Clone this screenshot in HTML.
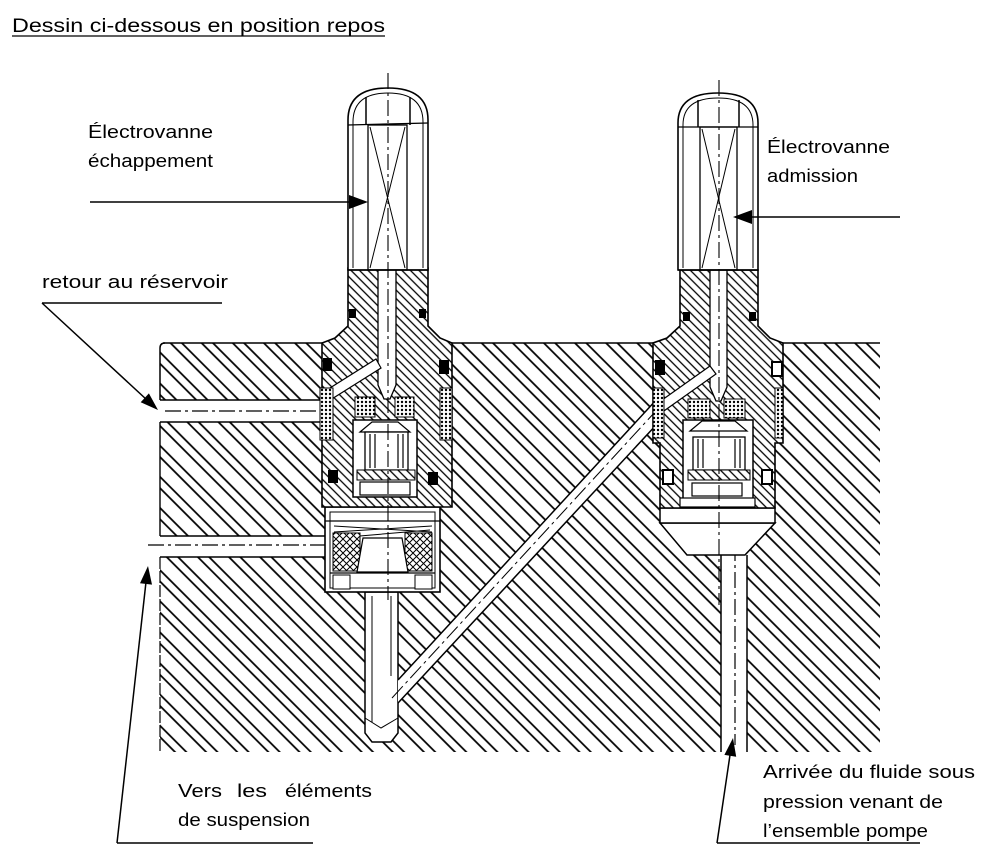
<!DOCTYPE html>
<html><head><meta charset="utf-8"><style>
html,body{margin:0;padding:0;background:#fff;width:1000px;height:861px;overflow:hidden}
svg{display:block}
text{font-family:"Liberation Sans",sans-serif;fill:#000}
</style></head><body>
<svg width="1000" height="861" viewBox="0 0 1000 861" xmlns="http://www.w3.org/2000/svg">
<defs>
<pattern id="h1" patternUnits="userSpaceOnUse" width="22" height="22" patternTransform="rotate(45)">
<rect width="22" height="22" fill="#fff"/><line x1="0" y1="4" x2="22" y2="4" stroke="#000" stroke-width="1.7"/><line x1="0" y1="12" x2="22" y2="12" stroke="#000" stroke-width="1.7"/></pattern>
<pattern id="h2" patternUnits="userSpaceOnUse" width="6" height="6" patternTransform="rotate(45)">
<rect width="6" height="6" fill="#fff"/><line x1="0" y1="3" x2="6" y2="3" stroke="#000" stroke-width="1.3"/></pattern>
<pattern id="ck" patternUnits="userSpaceOnUse" width="4" height="4">
<rect width="4" height="4" fill="#fff"/><circle cx="2" cy="2" r="1.2" fill="#000"/></pattern>
<pattern id="xh" patternUnits="userSpaceOnUse" width="7" height="7">
<rect width="7" height="7" fill="#fff"/><path d="M0,0 L7,7 M7,0 L0,7" stroke="#000" stroke-width="1"/></pattern>
</defs>

<!-- title -->
<text x="12" y="32" font-size="19" textLength="373" lengthAdjust="spacingAndGlyphs">Dessin ci-dessous en position repos</text>
<line x1="12" y1="36" x2="385" y2="36" stroke="#000" stroke-width="1.3"/>

<!-- main block -->
<rect x="160" y="343" width="720" height="409" fill="url(#h1)"/>
<line x1="163" y1="343" x2="880" y2="343" stroke="#000" stroke-width="1.6"/>
<path d="M160,400 L160,348 Q160,343 165,343" fill="none" stroke="#000" stroke-width="1.5"/>
<line x1="160" y1="422" x2="160" y2="536" stroke="#000" stroke-width="1.4"/>
<line x1="160" y1="557" x2="160" y2="752" stroke="#000" stroke-width="1.2" stroke-dasharray="12,2"/>

<!-- left channels -->
<rect x="158" y="400" width="166" height="22" fill="#fff"/>
<line x1="160" y1="400" x2="324" y2="400" stroke="#000" stroke-width="1.5"/>
<line x1="160" y1="422" x2="324" y2="422" stroke="#000" stroke-width="1.5"/>
<line x1="165" y1="411" x2="322" y2="411" stroke="#000" stroke-width="1.2" stroke-dasharray="16,4,3,4"/>
<rect x="158" y="536" width="170" height="21" fill="#fff"/>
<line x1="160" y1="536" x2="327" y2="536" stroke="#000" stroke-width="1.5"/>
<line x1="160" y1="557" x2="327" y2="557" stroke="#000" stroke-width="1.5"/>
<line x1="148" y1="545" x2="440" y2="545" stroke="#000" stroke-width="1.2" stroke-dasharray="16,4,3,4"/>

<!-- left pin -->
<path d="M365,592 L398,592 L398,733 L391,742 L372,742 L365,733 Z" fill="#fff" stroke="#000" stroke-width="1.5"/>

<!-- diagonal band -->
<polygon points="398,680 658,398 658,423 398,703" fill="#fff"/>
<line x1="398" y1="680" x2="658" y2="398" stroke="#000" stroke-width="1.5"/>
<line x1="398" y1="703" x2="658" y2="423" stroke="#000" stroke-width="1.5"/>
<line x1="392" y1="698" x2="655" y2="412" stroke="#000" stroke-width="1" stroke-dasharray="16,4,3,4"/>
<!-- pin interior -->
<line x1="372" y1="596" x2="372" y2="722" stroke="#000" stroke-width="1"/>
<line x1="391" y1="596" x2="391" y2="676" stroke="#000" stroke-width="1"/>
<path d="M365,718 L381,728 L398,718" fill="none" stroke="#000" stroke-width="1"/>

<!-- right pipe and cone -->
<rect x="721" y="553" width="26" height="199" fill="#fff"/>
<line x1="721" y1="555" x2="721" y2="752" stroke="#000" stroke-width="1.5"/>
<line x1="747" y1="555" x2="747" y2="752" stroke="#000" stroke-width="1.5"/>
<line x1="735" y1="545" x2="735" y2="745" stroke="#000" stroke-width="1.2" stroke-dasharray="16,4,3,4"/>
<polygon points="660,523 775,523 745,555 687,555" fill="#fff" stroke="#000" stroke-width="1.5"/>
<rect x="660" y="508" width="115" height="15" fill="#fff" stroke="#000" stroke-width="1.5"/>

<!-- LEFT VALVE -->
<rect x="325" y="507" width="115" height="85" fill="#fff" stroke="#000" stroke-width="1.6"/>
<rect x="330" y="512" width="105" height="76" fill="none" stroke="#000" stroke-width="1"/>
<line x1="325" y1="521" x2="440" y2="521" stroke="#000" stroke-width="1.2"/>
<path d="M334,526 L432,532 M334,532 L432,526 M336,538 L430,530" stroke="#000" stroke-width="1" fill="none"/>
<rect x="333" y="533" width="27" height="38" fill="url(#xh)" stroke="#000" stroke-width="1"/>
<rect x="405" y="533" width="27" height="38" fill="url(#xh)" stroke="#000" stroke-width="1"/>
<polygon points="363,538 402,538 408,572 357,572" fill="#fff" stroke="#000" stroke-width="1.2"/>
<line x1="330" y1="573" x2="435" y2="573" stroke="#000" stroke-width="1.2"/>
<rect x="333" y="575" width="17" height="14" fill="#fff" stroke="#000" stroke-width="1"/>
<rect x="415" y="575" width="17" height="14" fill="#fff" stroke="#000" stroke-width="1"/>

<path d="M348,268 L428,268 L428,326 L440,338 L452,343 L452,507 L322,507 L322,343 L335,338 L348,326 Z" fill="url(#h2)" stroke="#000" stroke-width="1.6"/>
<path d="M378,268 L396,268 L396,385 L390,399 L384,399 L378,385 Z" fill="#fff" stroke="#000" stroke-width="1.3"/>
<polygon points="322,393 376,359 381,368 327,402" fill="#fff" stroke="#000" stroke-width="1.2"/>
<rect x="320" y="388" width="13" height="52" fill="url(#ck)" stroke="#000" stroke-width="1"/>
<rect x="440" y="388" width="12" height="52" fill="url(#ck)" stroke="#000" stroke-width="1"/>
<rect x="349" y="309" width="7" height="9" fill="#000"/>
<rect x="419" y="309" width="7" height="9" fill="#000"/>
<rect x="323" y="358" width="9" height="13" fill="#000"/>
<rect x="439" y="360" width="10" height="14" fill="#000"/>
<rect x="328" y="470" width="10" height="13" fill="#000"/>
<rect x="428" y="472" width="10" height="13" fill="#000"/>
<rect x="355" y="397" width="20" height="20" fill="url(#ck)" stroke="#000" stroke-width="1"/>
<rect x="395" y="397" width="19" height="20" fill="url(#ck)" stroke="#000" stroke-width="1"/>
<rect x="353" y="420" width="64" height="77" fill="#fff" stroke="#000" stroke-width="1.5"/>
<path d="M360,432 L372,422 L398,422 L410,432 Z" fill="#fff" stroke="#000" stroke-width="1.2"/>
<rect x="365" y="432" width="43" height="38" fill="#fff" stroke="#000" stroke-width="1.3"/>
<path d="M370,434 V468 M375,434 V468 M398,434 V468 M403,434 V468" stroke="#000" stroke-width="1.2"/>
<rect x="357" y="470" width="58" height="10" fill="url(#h2)" stroke="#000" stroke-width="1"/>
<rect x="360" y="482" width="50" height="13" fill="#fff" stroke="#000" stroke-width="1.2"/>

<!-- RIGHT VALVE -->
<path d="M680,270 L758,270 L758,326 L770,338 L783,343 L783,443 L775,443 L775,508 L660,508 L660,443 L653,443 L653,343 L667,338 L680,326 Z" fill="url(#h2)" stroke="#000" stroke-width="1.6"/>
<path d="M710,270 L727,270 L727,387 L721,401 L716,401 L710,387 Z" fill="#fff" stroke="#000" stroke-width="1.3"/>
<polygon points="655,405 710,366 716,374 661,413" fill="#fff" stroke="#000" stroke-width="1.2"/>
<rect x="653" y="388" width="11" height="50" fill="url(#ck)" stroke="#000" stroke-width="1"/>
<rect x="775" y="388" width="8" height="50" fill="url(#ck)" stroke="#000" stroke-width="1"/>
<rect x="683" y="312" width="7" height="9" fill="#000"/>
<rect x="749" y="312" width="7" height="9" fill="#000"/>
<rect x="655" y="360" width="10" height="15" fill="#000"/>
<rect x="772" y="362" width="10" height="14" fill="#fff" stroke="#000" stroke-width="2"/>
<rect x="663" y="470" width="10" height="14" fill="#fff" stroke="#000" stroke-width="2"/>
<rect x="762" y="470" width="10" height="14" fill="#fff" stroke="#000" stroke-width="2"/>
<rect x="688" y="399" width="22" height="19" fill="url(#ck)" stroke="#000" stroke-width="1"/>
<rect x="724" y="399" width="21" height="19" fill="url(#ck)" stroke="#000" stroke-width="1"/>
<rect x="683" y="420" width="70" height="87" fill="#fff" stroke="#000" stroke-width="1.5"/>
<path d="M690,431 L702,421 L735,421 L747,431 Z" fill="#fff" stroke="#000" stroke-width="1.2"/>
<rect x="693" y="437" width="52" height="33" fill="#fff" stroke="#000" stroke-width="1.3"/>
<path d="M698,439 V468 M703,439 V468 M735,439 V468 M740,439 V468" stroke="#000" stroke-width="1.2"/>
<rect x="688" y="470" width="62" height="10" fill="url(#h2)" stroke="#000" stroke-width="1"/>
<rect x="692" y="483" width="50" height="13" fill="#fff" stroke="#000" stroke-width="1.2"/>
<rect x="680" y="498" width="75" height="9" fill="#fff" stroke="#000" stroke-width="1.2"/>

<!-- solenoid caps -->
<path d="M348,270 L348,120 Q348,88 388,88 Q428,88 428,120 L428,270 Z" fill="#fff" stroke="#000" stroke-width="1.6"/>
<path d="M353,268 L353,122 Q353,93 388,93 Q423,93 423,122 L423,268" fill="none" stroke="#000" stroke-width="1"/>
<line x1="348" y1="125" x2="428" y2="123" stroke="#000" stroke-width="1.3"/>
<path d="M366,97 V125 M410,97 V125" stroke="#000" stroke-width="1.5"/>
<rect x="368" y="125" width="39" height="145" fill="none" stroke="#000" stroke-width="1.3"/>
<path d="M370,127 L405,268 M405,127 L370,268" stroke="#000" stroke-width="1"/>
<line x1="348" y1="270" x2="428" y2="270" stroke="#000" stroke-width="1.5"/>

<path d="M678,270 L678,123 Q678,93 718,93 Q758,93 758,123 L758,270 Z" fill="#fff" stroke="#000" stroke-width="1.6"/>
<path d="M683,268 L683,125 Q683,98 718,98 Q753,98 753,125 L753,268" fill="none" stroke="#000" stroke-width="1"/>
<line x1="678" y1="127" x2="758" y2="127" stroke="#000" stroke-width="1.3"/>
<path d="M698,100 V127 M739,100 V127" stroke="#000" stroke-width="1.5"/>
<rect x="700" y="127" width="37" height="143" fill="none" stroke="#000" stroke-width="1.3"/>
<path d="M702,129 L735,268 M735,129 L702,268" stroke="#000" stroke-width="1"/>
<line x1="678" y1="270" x2="758" y2="270" stroke="#000" stroke-width="1.5"/>

<!-- centerlines -->
<line x1="388" y1="73" x2="388" y2="600" stroke="#000" stroke-width="1.1" stroke-dasharray="16,4,3,4"/>
<line x1="719" y1="80" x2="719" y2="605" stroke="#000" stroke-width="1.1" stroke-dasharray="16,4,3,4"/>

<!-- labels & leaders -->
<text x="88" y="138" font-size="18" textLength="125" lengthAdjust="spacingAndGlyphs">Électrovanne</text>
<text x="88" y="167" font-size="18" textLength="125" lengthAdjust="spacingAndGlyphs">échappement</text>
<line x1="90" y1="202" x2="352" y2="202" stroke="#000" stroke-width="1.5"/>
<polygon points="368,202 349,195 349,209" fill="#000"/>

<text x="767" y="153" font-size="18" textLength="123" lengthAdjust="spacingAndGlyphs">Électrovanne</text>
<text x="767" y="182" font-size="18" textLength="91" lengthAdjust="spacingAndGlyphs">admission</text>
<line x1="900" y1="217" x2="750" y2="217" stroke="#000" stroke-width="1.5"/>
<polygon points="733,217 752,210 752,224" fill="#000"/>

<text x="42" y="288" font-size="18" textLength="186" lengthAdjust="spacingAndGlyphs">retour au réservoir</text>
<line x1="42" y1="303" x2="222" y2="303" stroke="#000" stroke-width="1.5"/>
<line x1="42" y1="303" x2="147" y2="400" stroke="#000" stroke-width="1.5"/>
<polygon points="158,410 140.7,402.2 148.9,393.4" fill="#000"/>

<text x="178" y="797" font-size="18" textLength="44" lengthAdjust="spacingAndGlyphs">Vers</text>
<text x="237" y="797" font-size="18" textLength="30" lengthAdjust="spacingAndGlyphs">les</text>
<text x="285" y="797" font-size="18" textLength="87" lengthAdjust="spacingAndGlyphs">éléments</text>
<text x="178" y="826" font-size="18" textLength="132" lengthAdjust="spacingAndGlyphs">de suspension</text>
<line x1="117" y1="843" x2="313" y2="843" stroke="#000" stroke-width="1.5"/>
<line x1="117" y1="843" x2="146" y2="582" stroke="#000" stroke-width="1.5"/>
<polygon points="148,566 152,584.6 140,583.2" fill="#000"/>

<text x="763" y="778" font-size="18" textLength="212" lengthAdjust="spacingAndGlyphs">Arrivée du fluide sous</text>
<text x="763" y="808" font-size="18" textLength="180" lengthAdjust="spacingAndGlyphs">pression venant de</text>
<text x="763" y="837" font-size="18" textLength="165" lengthAdjust="spacingAndGlyphs">l’ensemble pompe</text>
<line x1="717" y1="843" x2="920" y2="843" stroke="#000" stroke-width="1.5"/>
<line x1="717" y1="843" x2="730" y2="755" stroke="#000" stroke-width="1.5"/>
<polygon points="733,738 736.2,756.7 724.4,754.9" fill="#000"/>
</svg>
</body></html>
